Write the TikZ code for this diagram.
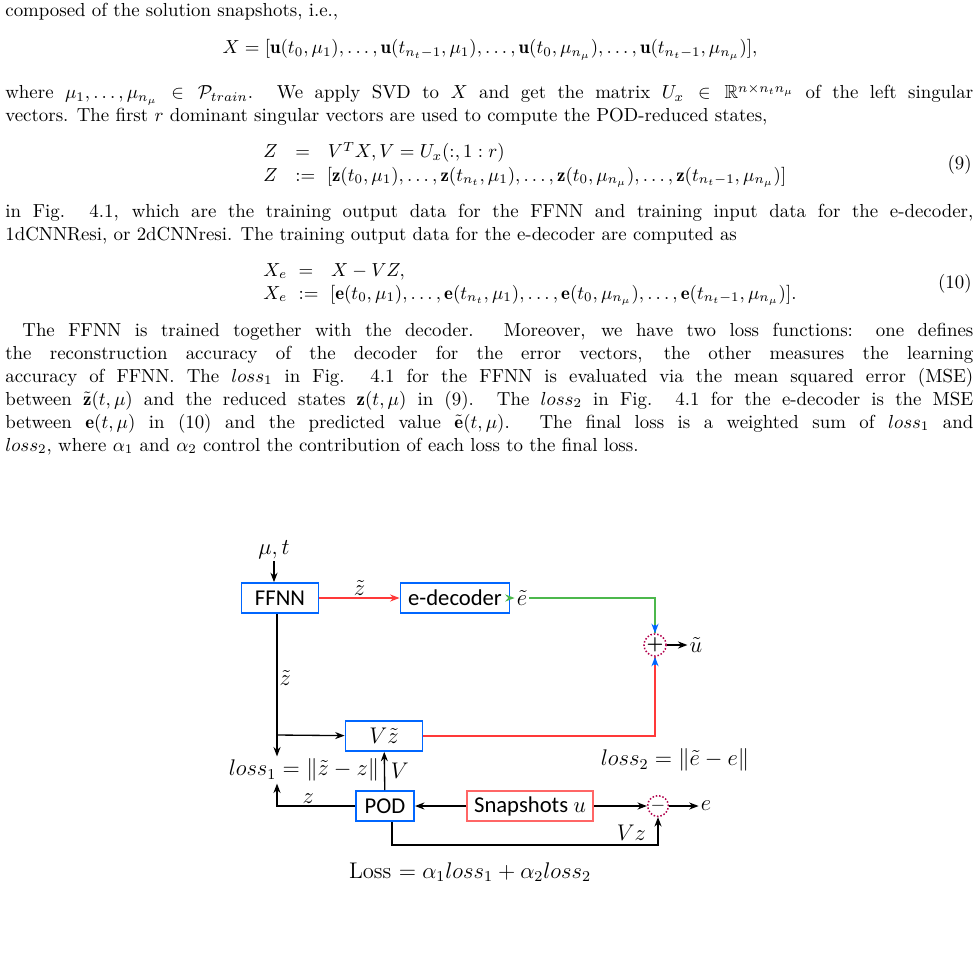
\documentclass[tikz,border=0pt]{standalone}
\usepackage{amsmath,amssymb}
\usepackage{fontspec}
\newfontfamily\carl{Carlito}
\usetikzlibrary{arrows.meta}
\newcommand\jl[1]{\makebox[513pt][s]{#1}}
\begin{document}
\begin{tikzpicture}[x=0.53pt,y=-0.53pt,
 txt/.style={anchor=base west,inner sep=0},
 box/.style={draw=blue!60!cyan,line width=0.8pt,minimum height=16pt,inner sep=2pt,font=\carl\large},
 lab/.style={font=\normalsize,inner sep=1pt},
 ar/.style={-{Stealth[length=5pt]},line width=0.7pt},
 op/.style={circle,draw=red!70!blue,densely dotted,line width=0.8pt,minimum size=11pt,inner sep=0pt,font=\bfseries}]
\useasboundingbox (0,0) rectangle (977,968);
\fill[white] (0,0) rectangle (977,968);
\node[txt] (l1) at (5,17) {composed of the solution snapshots, i.e.,};
\node[anchor=base,inner sep=0] (e1) at (490,54) {$X=[\mathbf{u}(t_0,\mu_1),\dots,\mathbf{u}(t_{n_t-1},\mu_1),\dots,\mathbf{u}(t_0,\mu_{n_\mu}),\dots,\mathbf{u}(t_{n_t-1},\mu_{n_\mu})],$};
\node[txt] (l2) at (5,99) {\jl{where $\mu_1,\dots,\mu_{n_\mu}\in\mathcal{P}_{train}$. We apply SVD to $X$ and get the matrix $U_x\in\mathbb{R}^{n\times n_tn_\mu}$ of the left singular}};
\node[txt] (l3) at (5,122) {vectors. The first $r$ dominant singular vectors are used to compute the POD-reduced states,};
\node[txt] (e2a) at (263,158) {$Z\ \ =\ \ V^TX, V=U_x(:,1:r)$};
\node[txt] (e2b) at (263,181) {$Z\ \ :=\ [\mathbf{z}(t_0,\mu_1),\dots,\mathbf{z}(t_{n_t},\mu_1),\dots,\mathbf{z}(t_0,\mu_{n_\mu}),\dots,\mathbf{z}(t_{n_t-1},\mu_{n_\mu})]$};
\node[anchor=base east,inner sep=0] (n9) at (972,170) {(9)};
\node[txt] (l4) at (5,217) {\jl{in Fig. 4.1, which are the training output data for the FFNN and training input data for the e-decoder,}};
\node[txt] (l5) at (5,240) {1dCNNResi, or 2dCNNresi. The training output data for the e-decoder are computed as};
\node[txt] (e3a) at (263,276) {$X_e\ =\ \ X-VZ,$};
\node[txt] (e3b) at (263,299) {$X_e\ :=\ [\mathbf{e}(t_0,\mu_1),\dots,\mathbf{e}(t_{n_t},\mu_1),\dots,\mathbf{e}(t_0,\mu_{n_\mu}),\dots,\mathbf{e}(t_{n_t-1},\mu_{n_\mu})].$};
\node[anchor=base east,inner sep=0] (n10) at (972,288) {(10)};
\node[txt] (p1) at (22,336) {\makebox[504pt][s]{The FFNN is trained together with the decoder. Moreover, we have two loss functions: one defines}};
\node[txt] (p2) at (5,359) {\jl{the reconstruction accuracy of the decoder for the error vectors, the other measures the learning}};
\node[txt] (p3) at (5,382) {\jl{accuracy of FFNN. The $loss_1$ in Fig. 4.1 for the FFNN is evaluated via the mean squared error (MSE)}};
\node[txt] (p4) at (5,405) {\jl{between $\tilde{\mathbf{z}}(t,\mu)$ and the reduced states $\mathbf{z}(t,\mu)$ in (9). The $loss_2$ in Fig. 4.1 for the e-decoder is the MSE}};
\node[txt] (p5) at (5,428) {\jl{between $\mathbf{e}(t,\mu)$ in (10) and the predicted value $\tilde{\mathbf{e}}(t,\mu)$. The final loss is a weighted sum of $loss_1$ and}};
\node[txt] (p6) at (5,451) {$loss_2$, where $\alpha_1$ and $\alpha_2$ control the contribution of each loss to the final loss.};
% diagram
\node[lab,font=\large] (mt) at (274,550) {$\mu,t$};
\node[box,minimum width=41pt] (ffnn) at (280,598) {FFNN};
\node[box,minimum width=58pt] (dec) at (455,598) {e-decoder};
\node[lab,font=\large] (et) at (522,598) {$\tilde e$};
\node[op] (plus) at (655,645) {+};
\node[lab,font=\large] (ut) at (696,645) {$\tilde u$};
\node[box,minimum width=41pt] (vz) at (384,736) {$V\tilde z$};
\node[lab,font=\large] (l1s) at (304,770) {$loss_1=\|\tilde z-z\|$};
\node[lab,font=\large] (l2s) at (675,760) {$loss_2=\|\tilde e-e\|$};
\node[box,minimum width=31pt] (pod) at (385,806) {POD};
\node[box,minimum width=67pt,draw=red!60] (snap) at (530,806) {Snapshots $u$};
\node[op] (minus) at (658,806) {$-$};
\node[lab,font=\large] (e) at (706,806) {$e$};
\node[lab,font=\large] (loss) at (470,872) {Loss $=\alpha_1loss_1+\alpha_2loss_2$};
\coordinate (br) at (277,735);
\coordinate (vzc) at (392,845);
\draw[ar] (mt) -- (mt|-ffnn.north);
\draw[ar,red!70!pink] (ffnn) -- node[above,lab,font=\large,black]{$\tilde z$} (dec);
\draw[ar,green!60!black!70] (dec) -- (et);
\draw[green!60!black!70,line width=0.7pt] (et) -| (plus.north) ;
\draw[ar,blue!60!cyan] (plus.north)++(0,-8) -- (plus.north);
\draw[ar] (plus) -- (ut);
\draw[ar] (ffnn.south-|br) -- node[right,lab,font=\large,pos=0.45]{$\tilde z$} (l1s.north-|br);
\draw[ar] (br) -- (vz);
\draw[red!70!pink,line width=0.7pt] (vz) -| (plus.south);
\draw[ar,blue!60!cyan] (plus.south)++(0,8) -- (plus.south);
\draw[ar] (pod) -- node[right=2pt,lab,font=\large]{$V$} (vz);
\draw[ar] (snap) -- (pod);
\draw[ar] (snap) -- (minus);
\draw[ar] (minus) -- (e);
\draw[ar] (pod.west) -| node[above,lab,font=\large,pos=0.3]{$z$} (l1s.south-|br);
\draw[ar] (pod.south-|vzc) -- (vzc) -| node[above=1pt,lab,font=\large,pos=0.45]{$Vz$} (minus.south);
\end{tikzpicture}
\end{document}
